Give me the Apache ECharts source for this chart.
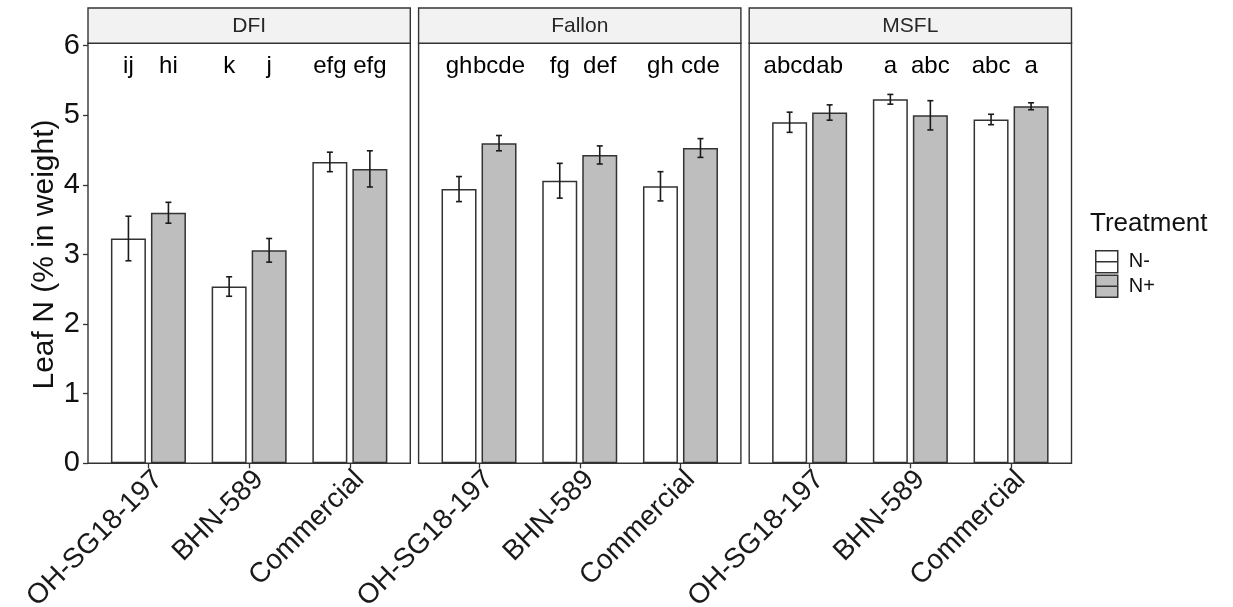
<!DOCTYPE html>
<html>
<head>
<meta charset="utf-8">
<script src="https://cdn.jsdelivr.net/npm/echarts@6/dist/echarts.min.js"></script>
<style>html,body{margin:0;padding:0;background:#fff}#c{width:1233px;height:607px}</style>
</head>
<body>
<div id="c"></div>
<script>
// ---- data ----
const sites = ['DFI', 'Fallon', 'MSFL'];
const varieties = ['OH-SG18-197', 'BHN-589', 'Commercial'];
const treatments = ['N-', 'N+'];
// means per site (rows) x variety (cols)
const meanNminus = [[3.23, 2.54, 4.33], [3.94, 4.06, 3.98], [4.90, 5.23, 4.94]];
const meanNplus  = [[3.60, 3.06, 4.23], [4.60, 4.43, 4.53], [5.04, 5.00, 5.13]];
const seNminus   = [[0.32, 0.14, 0.14], [0.18, 0.25, 0.21], [0.145, 0.07, 0.075]];
const seNplus    = [[0.15, 0.17, 0.26], [0.11, 0.13, 0.135], [0.11, 0.21, 0.05]];
const lettersNminus = [['ij', 'k', 'efg'], ['gh', 'fg', 'gh'], ['abcd', 'a', 'abc']];
const lettersNplus  = [['hi', 'j', 'efg'], ['bcde', 'def', 'cde'], ['ab', 'abc', 'a']];
const letterY = 5.7;
const yTicks = [0, 1, 2, 3, 4, 5, 6];

// ---- layout / style ----
const FONT = '"Liberation Sans", Arial, sans-serif';
const panelLeft = [88, 418.6, 749.2];
const panelW = 322.3;
const panelTop = 43.3, panelBottom = 463.3, stripTop = 8;
const innerPad = panelW / 3.2 * 0.1;
const gridTop = 45.7;
const BAR_W = 35, BAR_GAP = 5;
const fills = ['#FFFFFF', '#BEBEBE'];
const means = [meanNminus, meanNplus];
const ses = [seNminus, seNplus];
const letters = [lettersNminus, lettersNplus];

const grids = [], xAxes = [], yAxes = [], series = [], graphics = [];
sites.forEach((site, gi) => {
  grids.push({
    left: panelLeft[gi] + innerPad,
    width: panelW - 2 * innerPad,
    top: gridTop,
    height: panelBottom - gridTop,
    containLabel: false,
    outerBoundsMode: 'none'
  });
  xAxes.push({
    type: 'category', gridIndex: gi, data: varieties,
    axisLine: {show: false},
    axisTick: {show: true, alignWithLabel: true, length: 5, lineStyle: {color: '#333', width: 1.3}},
    axisLabel: {rotate: 45, align: 'right', verticalAlign: 'top', fontSize: 28, fontFamily: FONT,
      color: '#1a1a1a', margin: 2}
  });
  yAxes.push({
    type: 'value', gridIndex: gi, min: yTicks[0], max: yTicks[yTicks.length - 1], interval: 1,
    offset: innerPad,
    splitLine: {show: false},
    axisLine: {show: false},
    axisTick: {show: gi === 0, length: 5, lineStyle: {color: '#333', width: 1.3}},
    axisLabel: {show: gi === 0, fontSize: 29, fontFamily: FONT, color: '#111', margin: 8},
    name: gi === 0 ? 'Leaf N (% in weight)' : '',
    nameLocation: 'middle', nameGap: 28,
    nameTextStyle: {fontSize: 30, fontFamily: FONT, color: '#111'}
  });
  treatments.forEach((t, ti) => {
    series.push({
      type: 'bar', name: t, xAxisIndex: gi, yAxisIndex: gi,
      data: means[ti][gi],
      barWidth: BAR_W, barGap: (BAR_GAP / BAR_W * 100).toFixed(1) + '%',
      itemStyle: {color: fills[ti], borderColor: '#333', borderWidth: 1.5},
      emphasis: {disabled: true}, z: 2
    });
  });
  treatments.forEach((t, ti) => {
    series.push({
      type: 'custom', name: t + ' err', xAxisIndex: gi, yAxisIndex: gi, z: 10,
      data: varieties.map((v, i) => [i, means[ti][gi][i], ses[ti][gi][i]]),
      renderItem: function (params, api) {
        const x = api.value(0), m = api.value(1), s = api.value(2);
        const off = (ti === 0 ? -1 : 1) * (BAR_W + BAR_GAP) / 2;
        const top = api.coord([x, m + s]);
        const bot = api.coord([x, m - s]);
        const lab = api.coord([x, letterY]);
        const cx = top[0] + off;
        const ls = {stroke: '#1a1a1a', lineWidth: 1.6};
        return {type: 'group', children: [
          {type: 'line', shape: {x1: cx, y1: top[1], x2: cx, y2: bot[1]}, style: ls},
          {type: 'line', shape: {x1: cx - 3, y1: top[1], x2: cx + 3, y2: top[1]}, style: ls},
          {type: 'line', shape: {x1: cx - 3, y1: bot[1], x2: cx + 3, y2: bot[1]}, style: ls},
          {type: 'text', style: {text: letters[ti][gi][params.dataIndex], x: cx, y: lab[1],
            textAlign: 'center', textVerticalAlign: 'middle', fontSize: 24, fontFamily: FONT, fill: '#000'}}
        ]};
      }
    });
  });
  // panel border and facet strip
  graphics.push({
    type: 'rect', z: 100,
    shape: {x: panelLeft[gi], y: panelTop, width: panelW, height: panelBottom - panelTop},
    style: {fill: 'none', stroke: '#333', lineWidth: 1.4}
  });
  graphics.push({
    type: 'rect', z: 100,
    shape: {x: panelLeft[gi], y: stripTop, width: panelW, height: panelTop - stripTop},
    style: {fill: '#F2F2F2', stroke: '#333', lineWidth: 1.4}
  });
  graphics.push({
    type: 'text', z: 101,
    style: {text: site, x: panelLeft[gi] + panelW / 2, y: (stripTop + panelTop) / 2 + 1,
      textAlign: 'center', textVerticalAlign: 'middle', fontSize: 21, fontFamily: FONT, fill: '#262626'}
  });
});

const chart = echarts.init(document.getElementById('c'), null, {renderer: 'canvas'});
chart.setOption({
  animation: false,
  backgroundColor: '#fff',
  title: {text: 'Treatment', left: 1090, top: 211, padding: 0,
    textStyle: {fontSize: 26, fontWeight: 'normal', fontFamily: FONT, color: '#111'}},
  legend: {
    data: treatments, orient: 'vertical', left: 1095, top: 250, padding: 0,
    itemWidth: 22, itemHeight: 22, itemGap: 1,
    icon: 'path://M0,0H22V22H0Z M0,11H22',
    itemStyle: {borderColor: '#333', borderWidth: 1.5},
    textStyle: {fontSize: 20, fontFamily: FONT, color: '#111', padding: [0, 0, 0, 6]},
    selectedMode: false
  },
  grid: grids, xAxis: xAxes, yAxis: yAxes, series: series,
  graphic: graphics
});
</script>
</body>
</html>
